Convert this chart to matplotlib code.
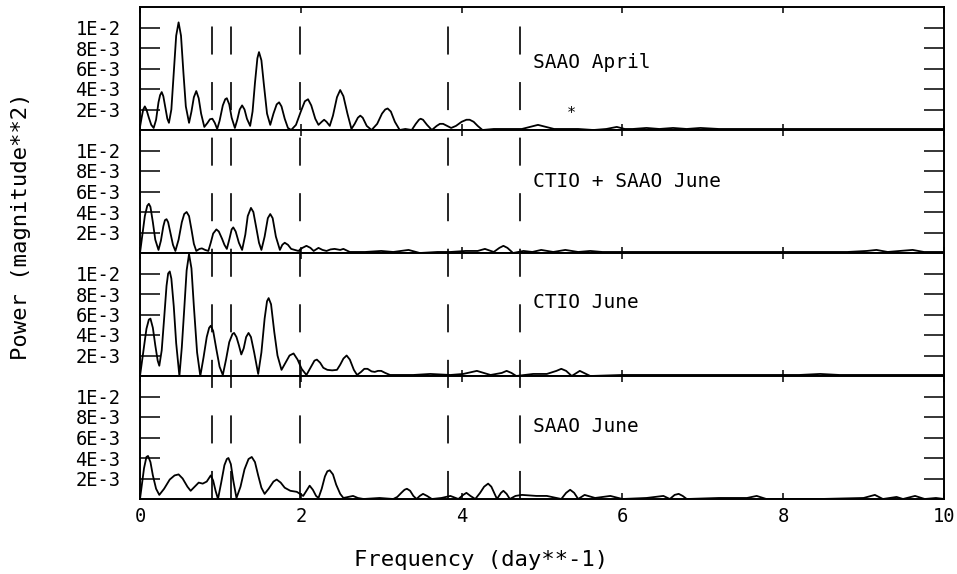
import numpy as np
import matplotlib
matplotlib.use("Agg")
import matplotlib.pyplot as plt

plt.rcParams['font.family'] = ['DejaVu Sans Mono', 'DejaVu Sans']
plt.rcParams['lines.scale_dashes'] = False

# Periodogram values (power in units of 1E-3)
labels = ["SAAO April", "CTIO + SAAO June", "CTIO June", "SAAO June"]

freq_saao_apr = [0.00, 0.02, 0.04, 0.06, 0.08, 0.11, 0.14, 0.17, 0.20, 0.23, 0.25, 0.27, 0.29,
                 0.32, 0.34, 0.36, 0.39, 0.42, 0.45, 0.48, 0.51, 0.54, 0.57, 0.61, 0.64, 0.67,
                 0.70, 0.73, 0.76, 0.80, 0.84, 0.87, 0.90, 0.93, 0.96, 0.99, 1.03, 1.06, 1.08,
                 1.11, 1.14, 1.18, 1.21, 1.24, 1.27, 1.30, 1.33, 1.37, 1.40, 1.43, 1.46, 1.48,
                 1.51, 1.54, 1.58, 1.62, 1.66, 1.70, 1.73, 1.76, 1.80, 1.84, 1.88, 1.94, 2.00,
                 2.05, 2.09, 2.13, 2.18, 2.22, 2.26, 2.29, 2.32, 2.36, 2.40, 2.45, 2.49, 2.53,
                 2.58, 2.63, 2.67, 2.71, 2.74, 2.77, 2.82, 2.88, 2.95, 3.01, 3.05, 3.08, 3.12,
                 3.17, 3.23, 3.30, 3.38, 3.43, 3.47, 3.49, 3.52, 3.57, 3.63, 3.69, 3.73, 3.77,
                 3.82, 3.87, 3.93, 4.00, 4.06, 4.10, 4.15, 4.20, 4.26, 4.40, 4.56, 4.75, 4.85,
                 4.95, 5.05, 5.15, 5.30, 5.45, 5.64, 5.80, 5.93, 6.03, 6.13, 6.30, 6.46, 6.63,
                 6.80, 6.97, 7.20, 7.50, 8.00, 8.50, 9.00, 9.50, 10.00]
pow_saao_apr = [0.3, 1.2, 2.0, 2.3, 2.0, 1.2, 0.5, 0.2, 1.0, 2.7, 3.4, 3.7, 3.3,
                2.0, 1.1, 0.7, 2.0, 5.6, 9.2, 10.5, 9.2, 5.6, 2.3, 0.7, 1.8, 3.2,
                3.8, 3.1, 1.6, 0.3, 0.7, 1.05, 1.1, 0.7, 0.1, 0.9, 2.4, 3.0, 3.1,
                2.5, 1.2, 0.2, 1.0, 2.0, 2.4, 2.0, 1.1, 0.4, 1.8, 4.6, 7.0, 7.6,
                6.8, 4.5, 1.6, 0.5, 1.6, 2.5, 2.7, 2.3, 1.1, 0.2, 0.0, 0.5, 1.8,
                2.8, 3.0, 2.4, 1.1, 0.5, 0.8, 1.0, 0.8, 0.4, 1.4, 3.2, 3.9, 3.3,
                1.6, 0.1, 0.6, 1.2, 1.4, 1.2, 0.4, 0.0, 0.6, 1.6, 2.0, 2.1, 1.8,
                0.8, 0.0, 0.1, 0.0, 0.6, 1.0, 1.1, 1.0, 0.5, 0.0, 0.4, 0.6, 0.6,
                0.4, 0.2, 0.4, 0.8, 1.0, 1.0, 0.8, 0.4, 0.0, 0.1, 0.1, 0.1, 0.3,
                0.5, 0.3, 0.1, 0.1, 0.1, 0.0, 0.1, 0.3, 0.1, 0.1, 0.2, 0.1, 0.2,
                0.1, 0.2, 0.1, 0.1, 0.1, 0.1, 0.1, 0.1, 0.1]

freq_combined = [0.00, 0.03, 0.06, 0.09, 0.11, 0.13, 0.16, 0.19, 0.23, 0.26, 0.29, 0.31, 0.33,
                 0.35, 0.38, 0.41, 0.44, 0.48, 0.52, 0.55, 0.58, 0.61, 0.64, 0.67, 0.70, 0.74,
                 0.77, 0.81, 0.85, 0.88, 0.91, 0.95, 0.98, 1.02, 1.05, 1.08, 1.11, 1.14, 1.16,
                 1.19, 1.23, 1.27, 1.31, 1.34, 1.38, 1.41, 1.45, 1.48, 1.51, 1.55, 1.59, 1.62,
                 1.65, 1.69, 1.74, 1.77, 1.80, 1.84, 1.88, 1.97, 2.02, 2.07, 2.12, 2.16, 2.22,
                 2.27, 2.32, 2.37, 2.42, 2.49, 2.53, 2.61, 2.80, 3.00, 3.15, 3.34, 3.48, 3.70,
                 3.86, 4.05, 4.20, 4.29, 4.40, 4.47, 4.52, 4.57, 4.64, 4.77, 4.88, 4.99, 5.14,
                 5.29, 5.45, 5.60, 5.75, 5.93, 6.30, 6.80, 7.30, 7.80, 8.30, 8.80, 9.04, 9.16,
                 9.30, 9.45, 9.61, 9.75, 10.00]
pow_combined = [0.0, 1.8, 3.6, 4.6, 4.8, 4.5, 3.0, 1.3, 0.3, 1.2, 2.6, 3.2, 3.3,
                3.0, 1.9, 0.8, 0.2, 1.3, 3.0, 3.8, 4.0, 3.6, 2.3, 0.9, 0.2, 0.4,
                0.45, 0.3, 0.2, 1.0, 1.9, 2.3, 2.1, 1.4, 0.8, 0.4, 1.3, 2.3, 2.5,
                2.1, 1.0, 0.3, 1.8, 3.6, 4.4, 4.0, 2.3, 1.0, 0.3, 1.6, 3.4, 3.8,
                3.4, 1.6, 0.3, 0.8, 1.0, 0.8, 0.4, 0.2, 0.5, 0.7, 0.5, 0.2, 0.5,
                0.3, 0.2, 0.35, 0.4, 0.3, 0.4, 0.1, 0.1, 0.2, 0.1, 0.3, 0.0, 0.1,
                0.1, 0.2, 0.2, 0.4, 0.1, 0.5, 0.7, 0.5, 0.0, 0.2, 0.1, 0.3, 0.1,
                0.3, 0.1, 0.2, 0.1, 0.1, 0.1, 0.1, 0.1, 0.1, 0.1, 0.1, 0.2, 0.3,
                0.1, 0.2, 0.3, 0.1, 0.1]

freq_ctio = [0.00, 0.04, 0.08, 0.11, 0.13, 0.16, 0.19, 0.22, 0.24, 0.27, 0.30, 0.33, 0.35,
             0.37, 0.39, 0.42, 0.45, 0.49, 0.52, 0.55, 0.58, 0.61, 0.64, 0.67, 0.71, 0.75,
             0.79, 0.83, 0.86, 0.88, 0.91, 0.95, 0.99, 1.03, 1.07, 1.11, 1.15, 1.17, 1.20,
             1.23, 1.26, 1.29, 1.32, 1.35, 1.38, 1.42, 1.47, 1.51, 1.55, 1.58, 1.60, 1.63,
             1.67, 1.71, 1.76, 1.81, 1.86, 1.91, 1.96, 2.01, 2.07, 2.12, 2.17, 2.20, 2.24,
             2.28, 2.33, 2.39, 2.45, 2.49, 2.53, 2.57, 2.61, 2.66, 2.70, 2.75, 2.79, 2.83,
             2.88, 2.92, 2.96, 3.00, 3.05, 3.11, 3.40, 3.61, 3.86, 4.02, 4.19, 4.36, 4.50,
             4.56, 4.62, 4.68, 4.89, 5.06, 5.18, 5.24, 5.30, 5.37, 5.47, 5.60, 6.00, 6.50,
             6.77, 7.20, 7.80, 8.20, 8.46, 8.70, 9.20, 9.60, 10.00]
pow_ctio = [0.0, 2.3, 4.6, 5.5, 5.6, 4.7, 3.0, 1.5, 1.0, 2.5, 5.6, 8.8, 10.0,
            10.2, 9.5, 6.8, 3.2, 0.0, 2.8, 6.5, 10.3, 11.9, 10.5, 6.8, 2.3, 0.0,
            1.8, 3.8, 4.7, 4.9, 4.4, 2.6, 0.9, 0.1, 1.6, 3.3, 4.1, 4.2, 3.8,
            3.0, 2.1, 2.7, 3.8, 4.2, 3.8, 2.3, 0.2, 2.3, 5.6, 7.3, 7.6, 7.0,
            4.3, 2.0, 0.6, 1.3, 2.0, 2.2, 1.6, 0.7, 0.1, 0.8, 1.5, 1.6, 1.3,
            0.8, 0.6, 0.55, 0.6, 1.1, 1.7, 2.0, 1.6, 0.6, 0.1, 0.4, 0.7, 0.7,
            0.45, 0.4, 0.5, 0.5, 0.3, 0.1, 0.1, 0.2, 0.1, 0.2, 0.5, 0.1, 0.3,
            0.5, 0.3, 0.0, 0.2, 0.2, 0.5, 0.7, 0.5, 0.0, 0.5, 0.0, 0.1, 0.1,
            0.1, 0.1, 0.1, 0.1, 0.2, 0.1, 0.1, 0.1, 0.1]

freq_saao_jun = [0.00, 0.02, 0.05, 0.08, 0.10, 0.13, 0.16, 0.20, 0.24, 0.30, 0.37, 0.43, 0.48,
                 0.53, 0.59, 0.63, 0.68, 0.73, 0.78, 0.83, 0.88, 0.91, 0.94, 0.97, 1.01, 1.05,
                 1.08, 1.10, 1.13, 1.16, 1.20, 1.25, 1.30, 1.35, 1.39, 1.43, 1.47, 1.51, 1.55,
                 1.60, 1.66, 1.70, 1.75, 1.80, 1.87, 1.95, 2.03, 2.07, 2.11, 2.15, 2.19, 2.22,
                 2.26, 2.30, 2.33, 2.36, 2.40, 2.44, 2.49, 2.53, 2.59, 2.65, 2.71, 2.78, 2.98,
                 3.15, 3.20, 3.25, 3.29, 3.32, 3.36, 3.40, 3.44, 3.48, 3.52, 3.57, 3.63, 3.75,
                 3.86, 3.96, 4.02, 4.06, 4.11, 4.17, 4.23, 4.28, 4.33, 4.37, 4.41, 4.44, 4.49,
                 4.52, 4.56, 4.60, 4.67, 4.75, 4.93, 5.06, 5.24, 5.30, 5.35, 5.40, 5.45, 5.53,
                 5.66, 5.85, 6.00, 6.30, 6.51, 6.59, 6.65, 6.70, 6.75, 6.80, 7.20, 7.55, 7.67,
                 7.79, 8.46, 9.00, 9.14, 9.24, 9.41, 9.49, 9.64, 9.76, 9.90, 10.00]
pow_saao_jun = [0.0, 1.2, 3.0, 4.1, 4.2, 3.6, 2.3, 1.0, 0.4, 1.0, 1.9, 2.3, 2.4,
                2.0, 1.2, 0.8, 1.2, 1.6, 1.5, 1.7, 2.3, 1.8, 0.8, 0.0, 1.6, 3.3,
                3.9, 4.0, 3.4, 1.8, 0.1, 1.2, 2.9, 3.9, 4.1, 3.6, 2.3, 1.1, 0.5,
                1.0, 1.7, 1.9, 1.6, 1.1, 0.8, 0.7, 0.3, 0.8, 1.3, 0.9, 0.3, 0.1,
                1.0, 2.2, 2.7, 2.8, 2.4, 1.4, 0.5, 0.1, 0.2, 0.3, 0.1, 0.0, 0.1,
                0.0, 0.2, 0.6, 0.9, 1.0, 0.8, 0.3, 0.0, 0.3, 0.5, 0.3, 0.0, 0.1,
                0.3, 0.0, 0.4, 0.6, 0.3, 0.0, 0.6, 1.2, 1.5, 1.2, 0.5, 0.0, 0.6,
                0.8, 0.5, 0.0, 0.3, 0.4, 0.3, 0.3, 0.0, 0.6, 0.9, 0.6, 0.0, 0.4,
                0.1, 0.3, 0.0, 0.1, 0.3, 0.0, 0.4, 0.5, 0.3, 0.0, 0.1, 0.1, 0.3,
                0.0, 0.0, 0.1, 0.4, 0.0, 0.2, 0.0, 0.3, 0.0, 0.1, 0.0]

# frequencies of the marked (dashed) lines
marked_freqs = [0.89, 1.13, 1.99, 3.83, 4.73]

series = [(freq_saao_apr, pow_saao_apr), (freq_combined, pow_combined),
          (freq_ctio, pow_ctio), (freq_saao_jun, pow_saao_jun)]
label_y = [6.6e-3, 7.0e-3, 7.2e-3, 7.1e-3]

yticks = [2e-3, 4e-3, 6e-3, 8e-3, 1e-2]
ytick_labels = ["2E-3", "4E-3", "6E-3", "8E-3", "1E-2"]

fig = plt.figure(figsize=(9.57, 5.74), dpi=100)
left, right, bottom, top = 140 / 957, 944 / 957, 1 - 499 / 574, 1 - 7 / 574
axes = fig.subplots(4, 1, sharex=True,
                    gridspec_kw=dict(hspace=0, left=left, right=right, bottom=bottom, top=top))

for i, ax in enumerate(axes):
    f, p = series[i]
    ax.plot(f, np.array(p) * 1e-3, color='black', lw=1.3)
    ax.set_xlim(0, 10)
    ax.set_ylim(0, 0.012)
    ax.set_yticks(yticks)
    ax.set_yticklabels(ytick_labels)
    ax.set_xticks([0, 2, 4, 6, 8, 10])
    ax.tick_params(axis='y', direction='in', length=14.5, width=1.1, left=True, right=True,
                   labelsize=13.5, pad=14)
    ax.tick_params(axis='x', direction='in', length=4, width=1.1, top=True, bottom=True,
                   labelsize=13.5, pad=6)
    for s in ax.spines.values():
        s.set_linewidth(1.4)
    ax.text(4.89, label_y[i], labels[i], fontsize=14, va='center', ha='left')
    if i < 3:
        ax.tick_params(axis='x', labelbottom=False)

axes[0].text(5.36, 1.6e-3, "*", fontsize=11, ha='center', va='center')

# dashed markers running through all four panels
overlay = fig.add_axes([left, bottom, right - left, top - bottom], frameon=False)
overlay.set_xlim(0, 10)
overlay.set_ylim(0, 1)
overlay.axis('off')
for fm in marked_freqs:
    overlay.axvline(fm, 0, 1, color='black', lw=1.2, linestyle=(0, (20.2, 19.8)))

fig.text(481 / 957, 1 - 560 / 574, "Frequency (day**-1)", fontsize=16, ha='center', va='center')
fig.text(21 / 957, 1 - 226 / 574, "Power (magnitude**2)", fontsize=16, ha='center', va='center',
         rotation=90)

fig.savefig("out.png", dpi=100)
